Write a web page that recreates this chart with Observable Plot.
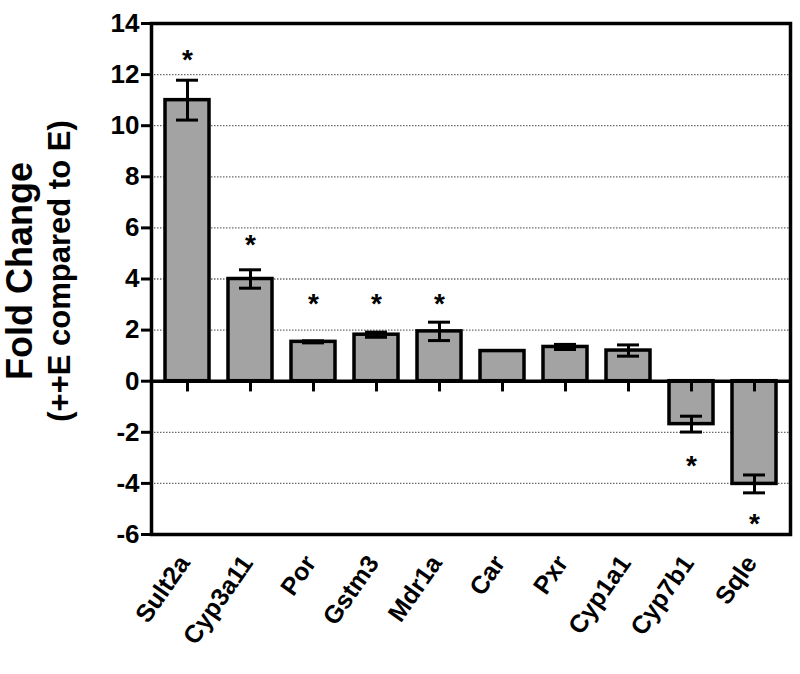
<!DOCTYPE html>
<html>
<head>
<meta charset="utf-8">
<script src="https://cdn.jsdelivr.net/npm/d3@7"></script>
<script src="https://cdn.jsdelivr.net/npm/@observablehq/plot@0.6"></script>
<style>
  html, body { margin: 0; padding: 0; background: #fff; }
  #chart svg { display: block; }
  #chart g[aria-label="y-axis tick label"] text { font-size: 26px !important; font-weight: bold; }
  #chart g[aria-label="x-axis tick label"] text { font-size: 25px !important; font-weight: bold; }
</style>
</head>
<body>
<div id="chart"></div>
<script>
const genes = ["Sult2a", "Cyp3a11", "Por", "Gstm3", "Mdr1a", "Car", "Pxr", "Cyp1a1", "Cyp7b1", "Sqle"];
const foldChange = [11.0, 4.0, 1.54, 1.82, 1.95, 1.18, 1.34, 1.2, -1.68, -4.02];
const errors = [0.78, 0.36, 0.04, 0.1, 0.36, 0, 0.1, 0.22, 0.31, 0.35];
const significant = [true, true, true, true, true, false, false, false, true, true];
const starLevel = [12.85, 5.6, 3.3, 3.3, 3.3, null, null, null, -3.05, -5.3];
const yTicks = [-6, -4, -2, 0, 2, 4, 6, 8, 10, 12, 14];
const gridLines = [-4, -2, 2, 4, 6, 8, 10, 12];

const data = genes.map((g, i) => ({gene: g, value: foldChange[i], err: errors[i], sig: significant[i], star: starLevel[i]}));
const withErr = data.filter(d => d.err > 0);
const stars = data.filter(d => d.sig);

const font = "'Liberation Sans', Arial, Helvetica, sans-serif";

const chart = Plot.plot({
  width: 800,
  height: 674,
  marginLeft: 151,
  marginRight: 10,
  marginTop: 23,
  marginBottom: 140,
  style: {fontFamily: font, fontWeight: "bold", color: "black", background: "white"},
  x: {domain: genes, paddingInner: 0.3, paddingOuter: 0.15, label: null},
  y: {domain: [-6, 14], label: null},
  marks: [
    Plot.ruleY(gridLines, {stroke: "#6a6a6a", strokeWidth: 1.3, strokeDasharray: "1.5,1.5"}),
    Plot.barY(data, {x: "gene", y: "value", fill: "#a3a3a3", stroke: "black", strokeWidth: 3.5}),
    Plot.ruleX(withErr, {x: "gene", y1: d => d.value - d.err, y2: d => d.value + d.err, stroke: "black", strokeWidth: 3}),
    Plot.tickY(withErr, {x: "gene", y: d => d.value + d.err, stroke: "black", strokeWidth: 3, insetLeft: 11, insetRight: 11}),
    Plot.tickY(withErr, {x: "gene", y: d => d.value - d.err, stroke: "black", strokeWidth: 3, insetLeft: 11, insetRight: 11}),
    Plot.ruleY([0], {stroke: "black", strokeWidth: 3.5}),
    Plot.ruleX(genes, {x: d => d, y1: 0, y2: -0.42, stroke: "black", strokeWidth: 3}),
    Plot.text(stars, {x: "gene", y: "star", text: () => "*", fontSize: 28, fontWeight: "bold", dy: 7, fill: "black"}),
    Plot.frame({stroke: "black", strokeWidth: 3.5, fill: "none"}),
    Plot.axisY({ticks: yTicks, tickSize: 10, tickPadding: 2, strokeWidth: 3, tickFormat: d => String(d)}),
    Plot.axisX({anchor: "bottom", tickSize: 0, tickPadding: 24, dx: -3, tickRotate: -55}),
    Plot.text(["Fold Change"], {frameAnchor: "left", textAnchor: "middle", rotate: -90, dx: -131, dy: -8, fontSize: 36, fontWeight: "bold", fill: "black"}),
    Plot.text(["(++E compared to E)"], {frameAnchor: "left", textAnchor: "middle", rotate: -90, dx: -91, dy: -8, fontSize: 31, fontWeight: "bold", fill: "black"})
  ]
});
document.getElementById("chart").append(chart);
</script>
</body>
</html>
